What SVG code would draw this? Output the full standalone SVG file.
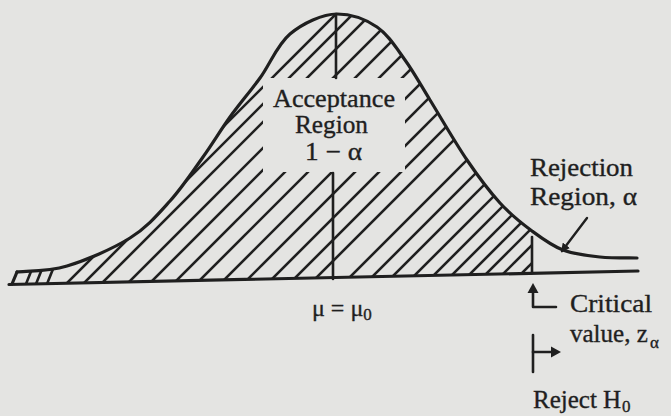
<svg xmlns="http://www.w3.org/2000/svg" width="671" height="416" viewBox="0 0 671 416">
  <defs>
    <style>
      .ink { stroke: #1f1f1f; fill: none; stroke-linecap: round; stroke-linejoin: round; }
      .curve { stroke-width: 3.2; }
      .hatch line { stroke: #1f1f1f; stroke-width: 2.6; stroke-linecap: butt; }
      .lbl { font-family: "Liberation Serif", "Times New Roman", serif; font-size: 25px; fill: #1f1f1f; stroke: #1f1f1f; stroke-width: 0.35; }
      .sub { font-size: 17px; }
    </style>
    <clipPath id="accClip">
      <path d="M12,284 L17,272 C25.3,271 48.2,271.7 67,266 C85.8,260.3 112.8,248.8 130,238 C147.2,227.2 157.8,214.5 170,201 C182.2,187.5 193,171 203,157 C213,143 220.5,130.2 230,117 C239.5,103.8 250,91.8 260,78 C270,64.2 277.2,44.7 290,34 C302.8,23.3 322.5,14 337,14 C351.5,14 365.7,19.3 377,27 C388.3,34.7 396.2,47.8 405,60 C413.8,72.2 419.7,83.3 430,100 C440.3,116.7 455.3,142.8 467,160 C478.7,177.2 489.2,191.2 500,203 C510.8,214.8 521.5,223.2 532,231 L532,273.2 Z"/>
    </clipPath>
    <marker id="head" viewBox="0 0 10 10" refX="8" refY="5" markerWidth="9" markerHeight="9" markerUnits="userSpaceOnUse" orient="auto">
      <path d="M0,0 L10,5 L0,10 Z" fill="#1f1f1f"/>
    </marker>
  </defs>

  <rect x="0" y="0" width="671" height="416" fill="#e4e4e2"/>

  <g id="acceptance-area">
    <g class="hatch" clip-path="url(#accClip)">
      <line x1="22" y1="294" x2="34" y2="264"/>
      <line x1="32" y1="294" x2="44" y2="264"/>
      <line x1="43" y1="294" x2="55" y2="264"/>
      <line x1="57" y1="293" x2="357" y2="-7"/>
      <line x1="74" y1="293" x2="374" y2="-7"/>
      <line x1="93" y1="292" x2="393" y2="-8"/>
      <line x1="119" y1="292" x2="419" y2="-8"/>
      <line x1="142" y1="291" x2="442" y2="-9"/>
      <line x1="166" y1="291" x2="466" y2="-9"/>
      <line x1="190" y1="290" x2="490" y2="-10"/>
      <line x1="214" y1="290" x2="514" y2="-10"/>
      <line x1="238" y1="289" x2="538" y2="-11"/>
      <line x1="262" y1="289" x2="562" y2="-11"/>
      <line x1="285" y1="288" x2="585" y2="-12"/>
      <line x1="306" y1="288" x2="606" y2="-12"/>
      <line x1="340" y1="287" x2="640" y2="-13"/>
      <line x1="362" y1="287" x2="662" y2="-13"/>
      <line x1="383" y1="286" x2="683" y2="-14"/>
      <line x1="404" y1="286" x2="704" y2="-14"/>
      <line x1="424" y1="285" x2="724" y2="-15"/>
      <line x1="442" y1="285" x2="742" y2="-15"/>
      <line x1="459" y1="285" x2="759" y2="-15"/>
      <line x1="476" y1="284" x2="776" y2="-16"/>
      <line x1="493" y1="284" x2="793" y2="-16"/>
      <line x1="511" y1="284" x2="811" y2="-16"/>
    </g>
    <rect x="263" y="78" width="142" height="94" fill="#e4e4e2"/>
    <line class="ink" x1="336" y1="14" x2="336" y2="78" stroke-width="2.6"/>
    <line class="ink" x1="333" y1="173" x2="333" y2="279" stroke-width="2.6"/>
    <text class="lbl" x="273" y="107" textLength="122" lengthAdjust="spacingAndGlyphs">Acceptance</text>
    <text class="lbl" x="295" y="133" textLength="73" lengthAdjust="spacingAndGlyphs">Region</text>
    <text class="lbl" x="305" y="160" textLength="57" lengthAdjust="spacingAndGlyphs">1 − α</text>
  </g>

  <g id="curve">
    <path class="ink curve" d="M17,272 C25.3,271 48.2,271.7 67,266 C85.8,260.3 112.8,248.8 130,238 C147.2,227.2 157.8,214.5 170,201 C182.2,187.5 193,171 203,157 C213,143 220.5,130.2 230,117 C239.5,103.8 250,91.8 260,78 C270,64.2 277.2,44.7 290,34 C302.8,23.3 322.5,14 337,14 C351.5,14 365.7,19.3 377,27 C388.3,34.7 396.2,47.8 405,60 C413.8,72.2 419.7,83.3 430,100 C440.3,116.7 455.3,142.8 467,160 C478.7,177.2 489.2,191.2 500,203 C510.8,214.8 521.5,223.2 532,231 C542.5,238.8 551.7,245.7 563,250 C574.3,254.3 587.7,255.7 600,257 C612.3,258.3 630.8,257.8 637,258"/>
    <line class="ink curve" x1="17" y1="272" x2="12" y2="284"/>
    <line class="ink curve" x1="9" y1="284.5" x2="638" y2="271"/>
    <line class="ink" x1="532" y1="237" x2="532" y2="273" stroke-width="2.6"/>
    <text class="lbl" x="312" y="316" style="font-size:24px">μ = μ<tspan class="sub" dy="4">0</tspan></text>
  </g>

  <g id="rejection-label">
    <text class="lbl" x="530" y="176" textLength="103" lengthAdjust="spacingAndGlyphs">Rejection</text>
    <text class="lbl" x="530" y="205" textLength="107" lengthAdjust="spacingAndGlyphs">Region, α</text>
  </g>

  <g id="critical-label">
    <text class="lbl" x="570" y="312" textLength="82" lengthAdjust="spacingAndGlyphs">Critical</text>
    <text class="lbl" x="570" y="342">value, z<tspan class="sub" x="650" y="348">α</tspan></text>
  </g>

  <g id="reject-h0">
    <text class="lbl" x="533" y="408">Reject H<tspan class="sub" x="622" y="412">0</tspan></text>
  </g>

  <g id="connectors">
    <line class="ink" x1="587" y1="218" x2="562" y2="251" stroke-width="2.4" marker-end="url(#head)"/>
    <polyline class="ink" points="556,307 533,307 533,292" stroke-width="2.6"/>
    <path d="M533,283 L527.5,293 L538.5,293 Z" fill="#1f1f1f"/>
    <line class="ink" x1="533" y1="335" x2="533" y2="372" stroke-width="2.6"/>
    <line class="ink" x1="533" y1="352" x2="552" y2="352" stroke-width="2.6"/>
    <path d="M561,352 L551,346.5 L551,357.5 Z" fill="#1f1f1f"/>
  </g>
</svg>
